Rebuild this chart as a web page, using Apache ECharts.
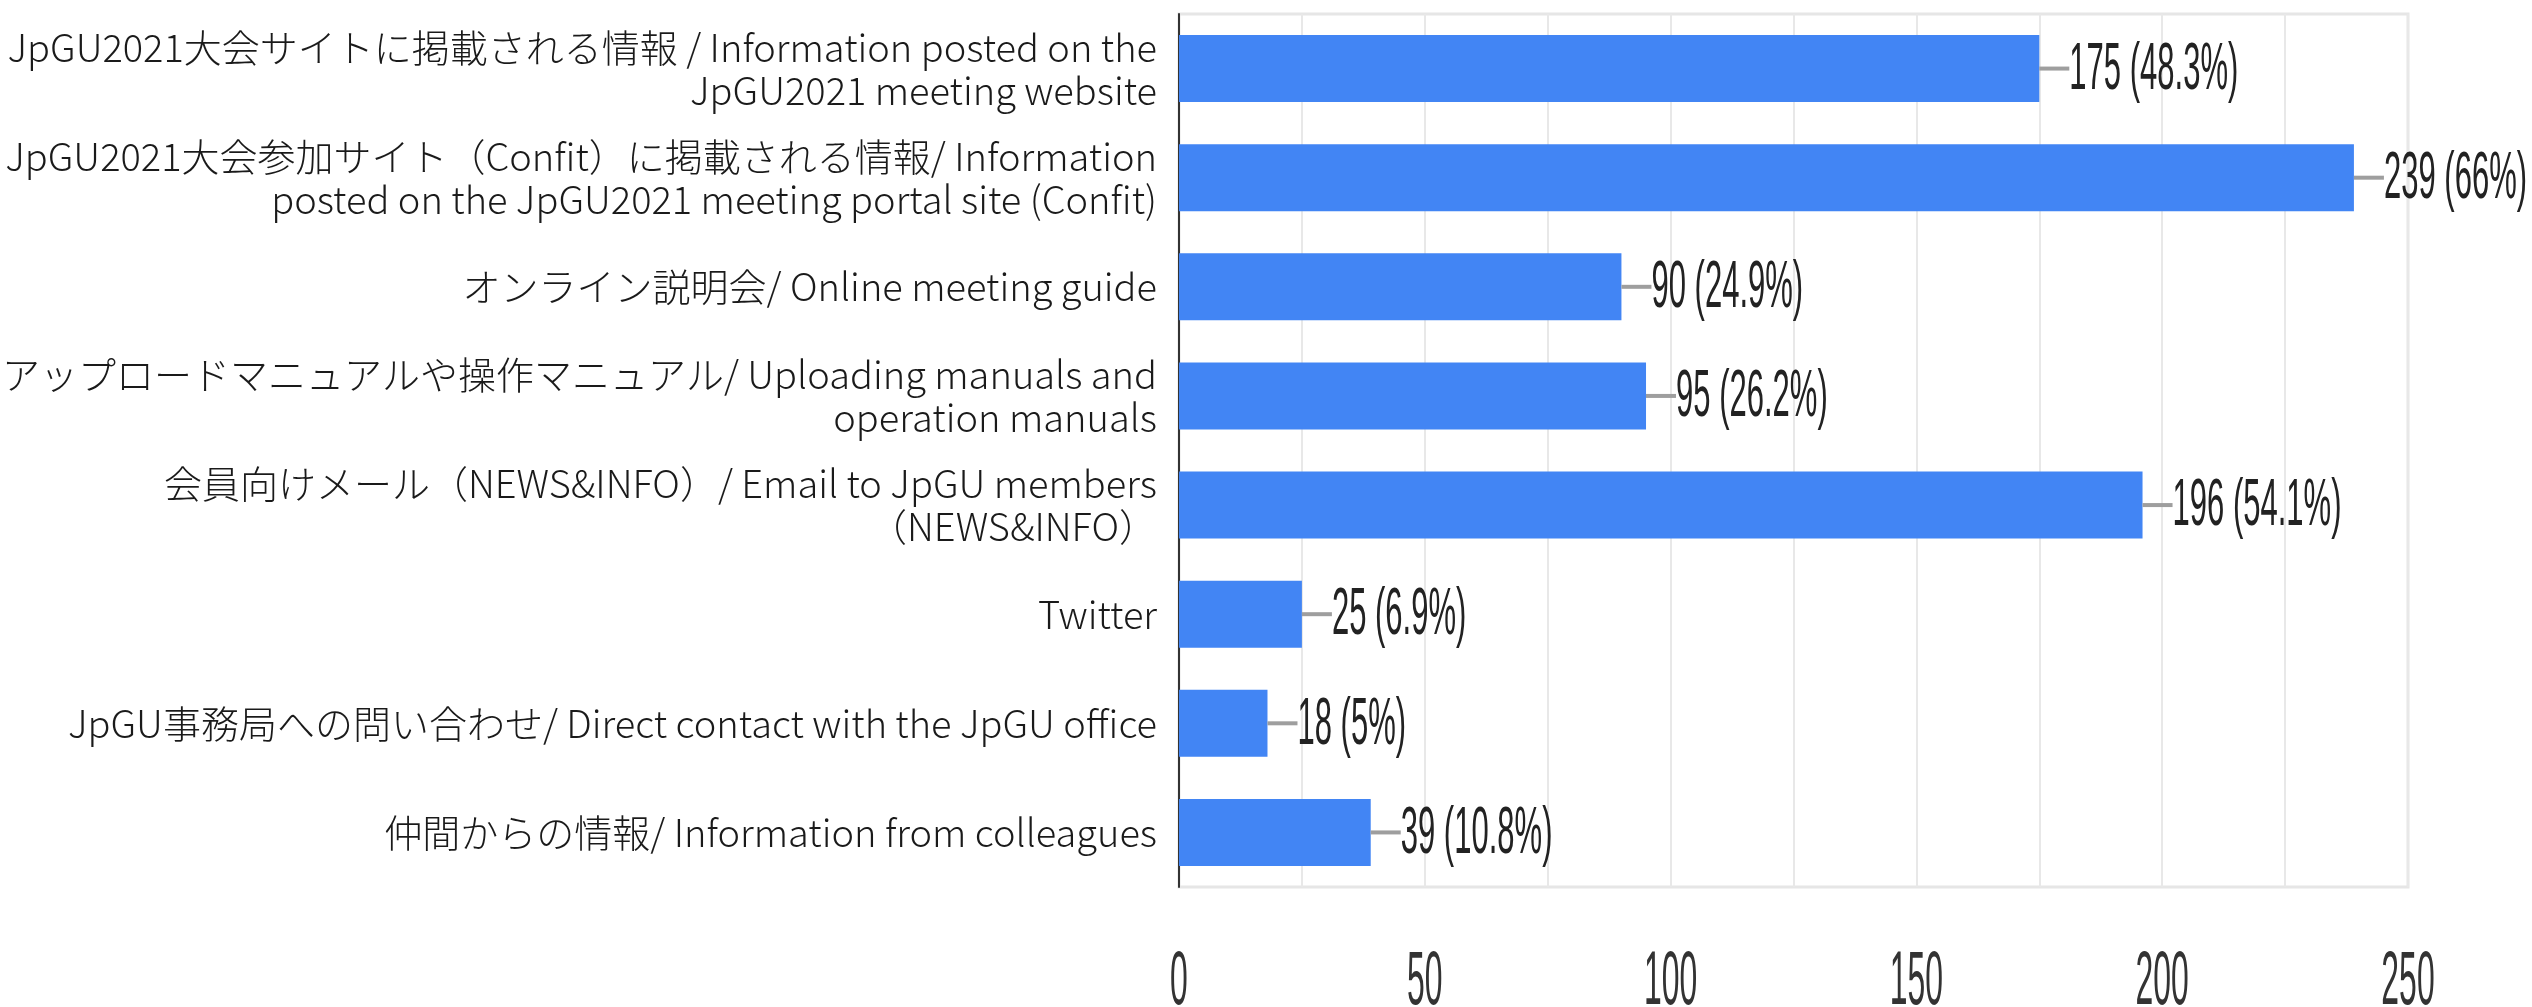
<!DOCTYPE html>
<html>

<head>
  <title>JpGU2021 情報源</title>
  <script src="https://cdn.jsdelivr.net/npm/echarts@6/dist/echarts.min.js"></script>
  <style>
    html, body { margin: 0; padding: 0; background: #fff; }
  </style>
</head>

<body>
  <div id="chart" style="width: 2532px;height:1007px;"></div>
  <script>
    // categories, top to bottom
    let categories = [
      'JpGU2021大会サイトに掲載される情報 / Information posted on the\nJpGU2021 meeting website',
      'JpGU2021大会参加サイト（Confit）に掲載される情報/ Information\nposted on the JpGU2021 meeting portal site (Confit)',
      'オンライン説明会/ Online meeting guide',
      'アップロードマニュアルや操作マニュアル/ Uploading manuals and\noperation manuals',
      '会員向けメール（NEWS&INFO）/ Email to JpGU members\n（NEWS&INFO）',
      'Twitter',
      'JpGU事務局への問い合わせ/ Direct contact with the JpGU office',
      '仲間からの情報/ Information from colleagues'
    ];
    let counts = [175, 239, 90, 95, 196, 25, 18, 39];
    let percents = ['48.3', '66', '24.9', '26.2', '54.1', '6.9', '5', '10.8'];
    let tickValues = [0, 50, 100, 150, 200, 250];

    let myChart = echarts.init(document.getElementById('chart'));

    // value label with a small gray connector, squeezed horizontally like the original
    function renderValueLabel(params, api) {
      let i = params.dataIndex;
      let p = api.coord([api.value(0), api.value(1)]);
      return {
        type: 'group',
        children: [
          {
            type: 'line',
            shape: { x1: p[0], y1: p[1], x2: p[0] + 30, y2: p[1] },
            style: { stroke: '#9e9e9e', lineWidth: 4 }
          },
          {
            type: 'text',
            x: p[0] + 30,
            y: p[1] + 2,
            scaleX: 0.47,
            style: {
              text: counts[i] + ' (' + percents[i] + '%)',
              fontSize: 66,
              fontFamily: 'Liberation Sans, Arial, sans-serif',
              fill: '#222',
              align: 'left',
              verticalAlign: 'middle'
            }
          }
        ]
      };
    }

    // x tick labels, tall and narrow
    function renderTick(params, api) {
      let x = api.coord([api.value(0), 0])[0];
      let cs = params.coordSys;
      return {
        type: 'text',
        x: x,
        y: cs.y + cs.height + 96,
        scaleX: 0.42,
        style: {
          text: String(tickValues[params.dataIndex]),
          fontSize: 76,
          fontFamily: 'Liberation Sans, Arial, sans-serif',
          fill: '#333',
          align: 'center',
          verticalAlign: 'middle'
        }
      };
    }

    let option = {
      animation: false,
      grid: {
        left: 1179,
        right: 124,
        top: 14,
        bottom: 120,
        containLabel: false,
        outerBoundsMode: 'none',
        show: true,
        borderColor: '#e6e6e6',
        borderWidth: 3
      },
      xAxis: {
        type: 'value',
        min: 0,
        max: 250,
        interval: 25,
        axisLine: { show: false },
        axisTick: { show: false },
        axisLabel: { show: false },
        splitLine: { lineStyle: { color: '#e8e8e8', width: 2 } }
      },
      yAxis: {
        type: 'category',
        inverse: true,
        data: categories,
        axisTick: { show: false },
        axisLine: { show: true, lineStyle: { color: '#333', width: 2 } },
        axisLabel: {
          fontSize: 38,
          lineHeight: 43,
          fontWeight: 300,
          color: '#1a1a1a',
          fontFamily: 'Noto Sans CJK JP, sans-serif',
          margin: 22
        }
      },
      series: [
        {
          type: 'bar',
          data: counts,
          barWidth: 67,
          itemStyle: { color: '#4285f4' }
        },
        {
          type: 'custom',
          renderItem: renderValueLabel,
          data: counts.map(function (v, i) { return [v, i]; }),
          z: 5
        },
        {
          type: 'custom',
          renderItem: renderTick,
          data: tickValues.map(function (v) { return [v, 0]; }),
          z: 5
        }
      ]
    };
    myChart.setOption(option);
  </script>

</body>

</html>
